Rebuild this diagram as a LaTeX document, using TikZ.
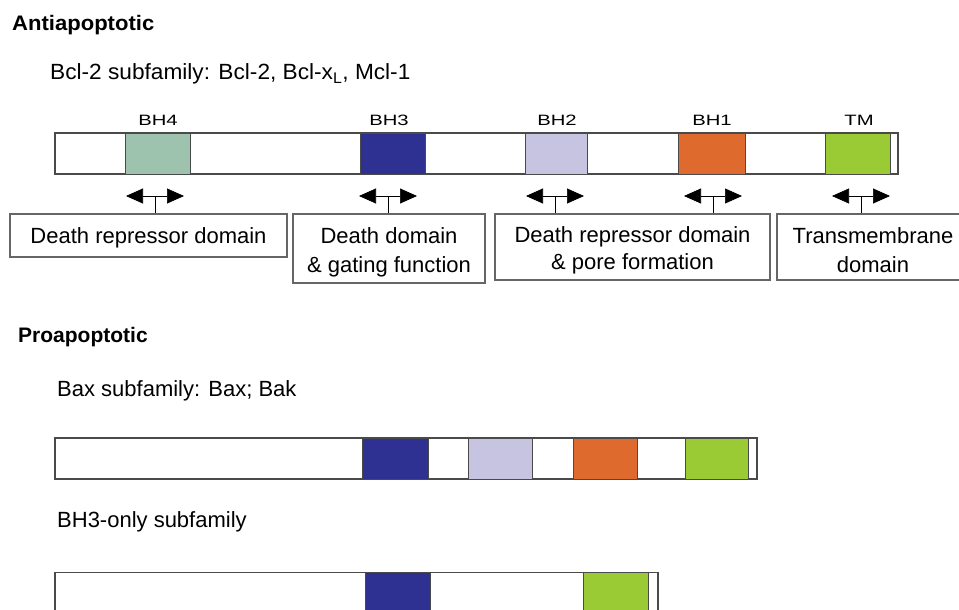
\documentclass[tikz,border=0pt]{standalone}
\usepackage{fontspec}
\setmainfont{Liberation Sans}
\usetikzlibrary{arrows.meta}
\definecolor{bhfour}{HTML}{9DC3AE}
\definecolor{bhthree}{HTML}{2E3192}
\definecolor{bhtwo}{HTML}{C6C4E0}
\definecolor{bhone}{HTML}{DE6A2E}
\definecolor{tmc}{HTML}{9BCB34}
\definecolor{edge}{HTML}{4A4A4A}
\tikzset{
  barbox/.style={draw=edge, line width=1.3pt, fill=white, inner sep=0pt, minimum height=41pt},
  blk/.style={draw=edge, line width=1pt, inner sep=0pt, minimum height=41pt},
  infobox/.style={draw=gray!80!black, line width=1.2pt, fill=white, inner sep=0pt, align=center,
     font=\fontsize{22}{29}\selectfont},
  boxtext/.style={inner sep=0pt, align=center, font=\fontsize{22}{29}\selectfont},
  head/.style={anchor=west, inner sep=0pt, font=\bfseries\fontsize{21}{24}\selectfont},
  sub/.style={anchor=west, inner sep=0pt, font=\fontsize{22}{24}\selectfont},
  bhlab/.style={inner sep=0pt, font=\fontsize{15}{18}\selectfont},
  dbl/.style={{Triangle[length=17pt,width=15pt]}-{Triangle[length=17pt,width=15pt]}, line width=0.7pt},
  tick/.style={line width=0.8pt}
}
\newcommand{\wide}[1]{\scalebox{1.35}[1]{#1}}
\begin{document}
\begin{tikzpicture}[x=1pt,y=-1pt]
\clip (0,0) rectangle (959,610);
\fill[white] (0,0) rectangle (959,610);

% headings
\node[head] (anti) at (12,25) {\scalebox{1.05}[1]{Antiapoptotic}};
\node[sub] (bcl) at (50,74) {\scalebox{1.03}[1]{Bcl-2 subfamily: Bcl-2, Bcl-x\textsubscript{L}, Mcl-1}};

% top bar
\node[barbox, minimum width=843pt] (bar1) at (476.5,153.5) {};
\node[blk, fill=bhfour, minimum width=65pt] (b4) at (157.5,153.5) {};
\node[blk, fill=bhthree, minimum width=65pt] (b3) at (392.5,153.5) {};
\node[blk, fill=bhtwo, minimum width=62pt] (b2) at (556,153.5) {};
\node[blk, fill=bhone, minimum width=67pt] (b1) at (711.5,153.5) {};
\node[blk, fill=tmc, minimum width=65pt] (btm) at (857.5,153.5) {};

% labels
\node[bhlab] (l4) at (158,120) {\wide{BH4}};
\node[bhlab] (l3) at (389,120) {\wide{BH3}};
\node[bhlab] (l2) at (557,120) {\wide{BH2}};
\node[bhlab] (l1) at (712,120) {\wide{BH1}};
\node[bhlab] (ltm) at (859,120) {\wide{TM}};

% info boxes
\node[infobox, minimum width=277pt, minimum height=43pt] (i1) at (148.5,235.5) {};
\node[boxtext] (t1) at (148.5,238) {Death repressor domain};
\node[infobox, minimum width=192pt, minimum height=69pt] (i2) at (389,248.5) {};
\node[boxtext] (t2) at (389,252) {Death domain\\\& gating function};
\node[infobox, minimum width=275pt, minimum height=66pt] (i3) at (632.5,247) {};
\node[boxtext, font=\fontsize{22}{27}\selectfont] (t3) at (632.5,250) {Death repressor domain\\\& pore formation};
\node[infobox, minimum width=192pt, minimum height=66pt] (i4) at (873,247) {};
\node[boxtext] (t4) at (873,250) {Transmembrane\\domain};

% double arrows with ticks
\foreach \n/\c in {1/155,2/388,3/555,4/713,5/861}{
  \coordinate (al\n) at (\c-29,196);
  \coordinate (ar\n) at (\c+29,196);
  \coordinate (am\n) at (\c,196);
}
\draw[dbl] (al1) -- (ar1);
\draw[dbl] (al2) -- (ar2);
\draw[dbl] (al3) -- (ar3);
\draw[dbl] (al4) -- (ar4);
\draw[dbl] (al5) -- (ar5);
\draw[tick] (am1) -- (am1 |- i1.north);
\draw[tick] (am2) -- (am2 |- i2.north);
\draw[tick] (am3) -- (am3 |- i3.north);
\draw[tick] (am4) -- (am4 |- i3.north);
\draw[tick] (am5) -- (am5 |- i4.north);

% proapoptotic
\node[head] (pro) at (18,337) {Proapoptotic};
\node[sub] (bax) at (57,391) {Bax subfamily: Bax; Bak};
\node[barbox, minimum width=702pt] (bar2) at (406,458.5) {};
\node[blk, fill=bhthree, minimum width=66pt] (c3) at (395,458.5) {};
\node[blk, fill=bhtwo, minimum width=64pt] (c2) at (500,458.5) {};
\node[blk, fill=bhone, minimum width=64pt] (c1) at (605,458.5) {};
\node[blk, fill=tmc, minimum width=63pt] (ctm) at (716.5,458.5) {};

\node[sub] (bh3o) at (57,522) {BH3-only subfamily};
\node[barbox, minimum width=603pt] (bar3) at (356.5,593) {};
\node[blk, fill=bhthree, minimum width=65pt] (d3) at (397.5,593) {};
\node[blk, fill=tmc, minimum width=65pt] (dtm) at (615.5,593) {};
\end{tikzpicture}
\end{document}
